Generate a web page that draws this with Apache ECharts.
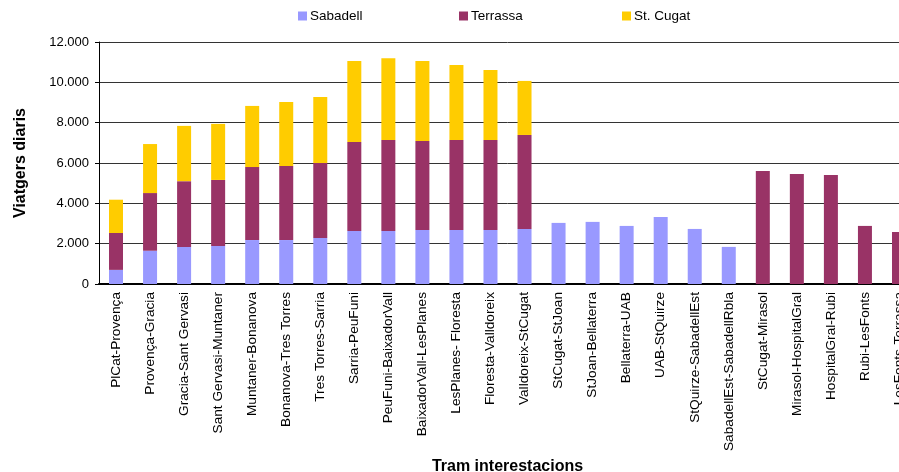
<!DOCTYPE html>
<html><head><meta charset="utf-8">
<script src="https://cdn.jsdelivr.net/npm/echarts@6/dist/echarts.min.js"></script>
<style>html,body{margin:0;padding:0;background:#fff;overflow:hidden;width:899px;height:472px}#c{width:916px;height:472px}</style>
</head><body><div id="c"></div>
<script>
const categories = ["PlCat-Provença","Provença-Gracia","Gracia-Sant Gervasi","Sant Gervasi-Muntaner","Muntaner-Bonanova","Bonanova-Tres Torres","Tres Torres-Sarria","Sarria-PeuFuni","PeuFuni-BaixadorVall","BaixadorVall-LesPlanes","LesPlanes- Floresta","Floresta-Valldoreix","Valldoreix-StCugat","StCugat-StJoan","StJoan-Bellaterra","Bellaterra-UAB","UAB-StQuirze","StQuirze-SabadellEst","SabadellEst-SabadellRbla","StCugat-Mirasol","Mirasol-HospitalGral","HospitalGral-Rubi","Rubi-LesFonts","LesFonts-Terrassa"];
const sabadell = [700,1650,1840,1890,2180,2180,2280,2630,2630,2680,2680,2680,2730,3030,3080,2880,3320,2730,1840,0,0,0,0,0];
const terrassa = [1830,2860,3260,3270,3620,3670,3720,4410,4510,4410,4460,4460,4660,0,0,0,0,0,0,5600,5450,5400,2880,2580];
const stcugat = [1650,2430,2740,2780,3030,3170,3270,4020,4060,3970,3720,3470,2680,0,0,0,0,0,0,0,0,0,0,0];
const yTicks = [0,2000,4000,6000,8000,10000,12000];

const font = "'Liberation Sans', Arial, sans-serif";
const chart = echarts.init(document.getElementById('c'), null, {renderer:'canvas'});
function fmt(v){ return String(v).replace(/\B(?=(\d{3})+(?!\d))/g,'.'); }
function mk(name, data, color){
  return {name, type:'bar', stack:'s', data: data.map(v=>v===0?null:v), barWidth:14,
    itemStyle:{color}, emphasis:{disabled:true}};
}
function lg(name, left){
  return {top:9, left, itemWidth:9, itemHeight:9, icon:'rect', padding:0,
    textStyle:{fontFamily:font, fontSize:13.5, color:'#000', padding:[0,0,0,-2]}, data:[name]};
}
chart.setOption({
  animation:false,
  textStyle:{fontFamily:font},
  legend:[lg('Sabadell',298), lg('Terrassa',459), lg('St. Cugat',622)],
  grid:{left:99, right:0, top:42, bottom:188, containLabel:false, outerBoundsMode:'none'},
  xAxis:{type:'category', data:categories,
    name:'Tram interestacions', nameLocation:'middle', nameGap:168,
    nameTextStyle:{fontFamily:font, fontSize:16, fontWeight:'bold', color:'#000'},
    axisLine:{lineStyle:{color:'#000', width:2}},
    axisTick:{show:false},
    axisLabel:{rotate:90, fontFamily:font, fontSize:13.7, color:'#000', margin:8, interval:0}},
  yAxis:{type:'value', min:0, max:12000, interval:2000,
    name:'Viatgers diaris', nameLocation:'middle', nameGap:70, nameRotate:90,
    nameTextStyle:{fontFamily:font, fontSize:16, fontWeight:'bold', color:'#000'},
    axisLine:{show:true, lineStyle:{color:'#000', width:1}},
    axisTick:{show:true, length:4, lineStyle:{color:'#000'}},
    axisLabel:{fontFamily:font, fontSize:13, color:'#000', margin:10, formatter:v=>fmt(v)},
    splitLine:{show:true, lineStyle:{color:'#333', width:1}}},
  series:[mk('Sabadell', sabadell, '#9999FF'), mk('Terrassa', terrassa, '#993366'), mk('St. Cugat', stcugat, '#FFCC00')]
});
</script></body></html>
